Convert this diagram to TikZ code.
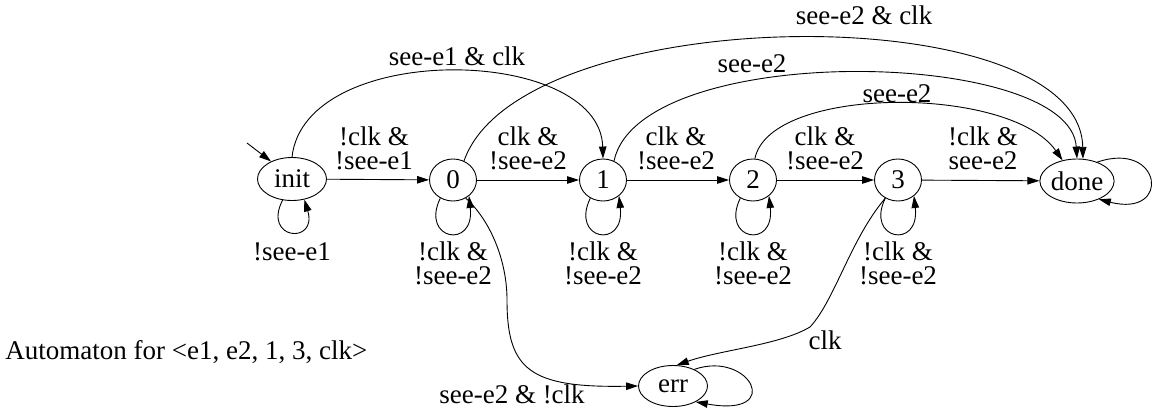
\documentclass[tikz,border=0pt]{standalone}
\usepackage{fontspec}
\setmainfont{Liberation Serif}
\newfontfamily\tfont{Liberation Serif}
\usetikzlibrary{arrows.meta,shapes.geometric,calc}
\begin{document}
\begin{tikzpicture}[x=1pt,y=-1pt,
  font=\tfont\fontsize{27}{24}\selectfont,
  line width=0.9pt,
  st/.style={draw, ellipse, inner sep=0pt, minimum width=47pt, minimum height=42pt},
  big/.style={draw, ellipse, inner sep=0pt, minimum width=69pt, minimum height=43pt},
  lab/.style={inner sep=0pt, align=center},
  tr/.style={-{Triangle[length=12pt,width=7.5pt]}}
]
\useasboundingbox (0,0) rectangle (1153,412);
% states
\node[big] (ini) at (292,179) {init};
\node[st] (s0) at (453,180) {0};
\node[st] (s1) at (603,180) {1};
\node[st] (s2) at (753,180) {2};
\node[st] (s3) at (898,180) {3};
\node[big, minimum width=68pt, minimum height=44pt] (done) at (1077,181) {done};
\node[big, minimum height=41pt] (err) at (673,386) {err};
\coordinate (start) at (247,143);
% initial arrow
\draw[tr] (start) -- (ini.140);
% straight transitions
\draw[tr] (ini) -- (s0);
\draw[tr] (s0) -- (s1);
\draw[tr] (s1) -- (s2);
\draw[tr] (s2) -- (s3);
\draw[tr] (s3) -- (done);
% self loops
\draw[tr] (ini.246) .. controls (262,240) and (318,245) .. (ini.-59);
\foreach \n in {s0,s1,s2,s3}
  \draw[tr] (\n.235) .. controls ($(\n)+(-33,60)$) and ($(\n)+(22,70)$) .. (\n.-45);
\draw[tr] (done.43) .. controls (1162,140) and (1172,218) .. (done.-40);
\draw[tr] (err.38) .. controls (750,350) and (785,418) .. (err.-35);
% long curves
\draw[tr] (ini.north) .. controls (305,40) and (600,45) .. (s1.north);
\draw[tr] (s0.60) .. controls (520,0) and (1080,-5) .. (done.75);
\draw[tr] (s1.60) .. controls (640,40) and (1070,48) .. (done.90);
\draw[tr] (s2.85) .. controls (770,85) and (1010,85) .. (done.125);
\draw[tr] (s0.-55) .. controls (490,220) and (507,260) .. (507,300) .. controls (507,370) and (530,388) .. (err.west);
\draw[tr] (s3.235) .. controls (850,240) and (835,300) .. (810,327) .. controls (780,345) and (720,350) .. (err.80);
% labels
\node[lab] (l1) at (374,148) {!clk \&\\!see-e1};
\node[lab] (l2) at (528,148) {clk \&\\!see-e2};
\node[lab] (l3) at (676,148) {clk \&\\!see-e2};
\node[lab] (l4) at (825,148) {clk \&\\!see-e2};
\node[lab] (l5) at (983,148) {!clk \&\\see-e2};
\node[lab, anchor=base] (l6) at (292,260) {!see-e1};
\foreach \n in {s0,s1,s2,s3}
  \node[lab] (lp\n) at ($(\n)+(0,83)$) {!clk \&\\!see-e2};
\node[lab, anchor=base] (l7) at (457,66) {see-e1 \& clk};
\node[lab, anchor=base] (l8) at (864,25) {see-e2 \& clk};
\node[lab, anchor=base] (l9) at (752,73) {see-e2};
\node[lab, anchor=base] (l10) at (897,102) {see-e2};
\node[lab, anchor=base] (l11) at (825,349) {clk};
\node[lab, anchor=base] (l12) at (512,403) {see-e2 \& !clk};
\node[lab, anchor=base west] (cap) at (5,359) {Automaton for <e1, e2, 1, 3, clk>};
\end{tikzpicture}
\end{document}
